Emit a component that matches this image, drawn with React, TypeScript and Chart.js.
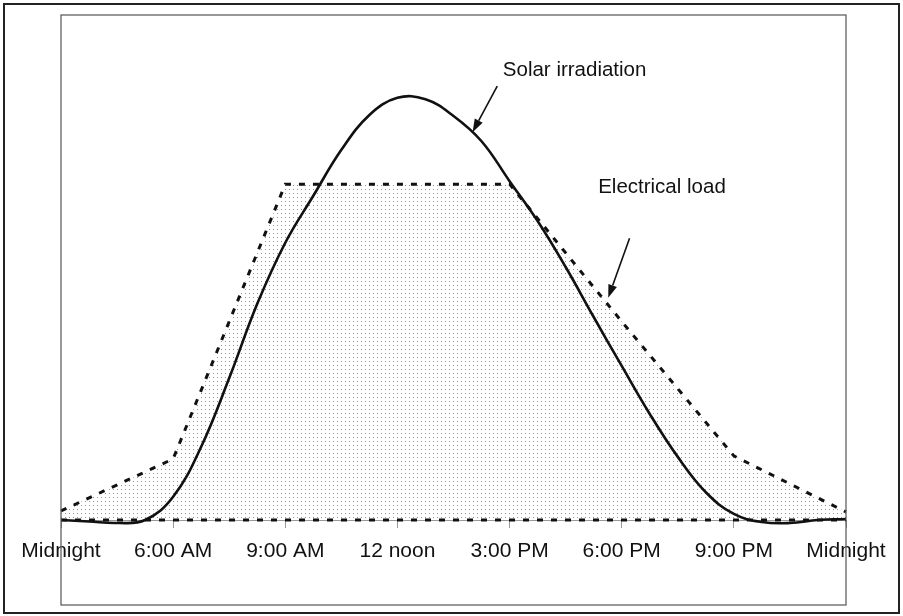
import React, { useEffect, useRef } from 'react';
import { Chart, registerables } from 'chart.js';

Chart.register(...registerables);

// ---- data ----
const tickLabels = ['Midnight', '6:00 AM', '9:00 AM', '12 noon', '3:00 PM', '6:00 PM', '9:00 PM', 'Midnight'];

const loadX = [0, 1, 2, 3, 4, 5, 6, 7];
const loadValues = [1.8, 12.1, 66.5, 66.5, 66.5, 39.3, 12.7, 1.6];

const solarX = [0, 0.25, 0.5, 0.75, 1, 1.25, 1.5, 1.75, 2, 2.25, 2.5, 2.75, 3, 3.25, 3.5, 3.75, 4, 4.25, 4.5, 4.75, 5, 5.25, 5.5, 5.75, 6, 6.25, 6.5, 6.75, 7];
const solarValues = [0, -0.3, -0.6, 0, 4.6, 14.5, 28.1, 42.8, 54.9, 64.2, 73.3, 80.2, 83.6, 83.3, 80.0, 75.0, 67.1, 59.2, 50.1, 40.2, 30.5, 21.0, 12.5, 5.5, 1.2, -0.4, -0.6, 0, 0.2];

const baselineX = [0, 7];
const baselineValues = [0, 0];

// annotation anchors, in data units
const solarNote = { text: 'Solar irradiation', x: 3.94, y: 87.9, fromX: 3.89, fromY: 85.9, toX: 3.67, toY: 76.8 };
const loadNote = { text: 'Electrical load', x: 4.79, y: 64.8, fromX: 5.07, fromY: 55.8, toX: 4.88, toY: 44.0 };

const W = 903;
const H = 616;

function makePattern(): CanvasPattern | string {
  const c = document.createElement('canvas');
  c.width = 4;
  c.height = 4;
  const g = c.getContext('2d');
  if (!g) return 'rgba(0,0,0,0.1)';
  g.fillStyle = 'rgba(40,40,40,0.5)';
  g.fillRect(1, 1, 1, 1);
  const p = g.createPattern(c, 'repeat');
  return p || 'rgba(0,0,0,0.1)';
}

function drawArrow(ctx: CanvasRenderingContext2D, x1: number, y1: number, x2: number, y2: number) {
  const ang = Math.atan2(y2 - y1, x2 - x1);
  const len = 13;
  const half = 4.5;
  const bx = x2 - len * Math.cos(ang);
  const by = y2 - len * Math.sin(ang);
  ctx.beginPath();
  ctx.moveTo(x1, y1);
  ctx.lineTo(bx, by);
  ctx.lineWidth = 1.6;
  ctx.strokeStyle = '#111';
  ctx.stroke();
  ctx.beginPath();
  ctx.moveTo(x2, y2);
  ctx.lineTo(bx + half * Math.sin(ang), by - half * Math.cos(ang));
  ctx.lineTo(bx - half * Math.sin(ang), by + half * Math.cos(ang));
  ctx.closePath();
  ctx.fillStyle = '#111';
  ctx.fill();
}

const framePlugin = {
  id: 'frameAndNotes',
  afterDraw(chart: any) {
    const ctx: CanvasRenderingContext2D = chart.ctx;
    const xs = chart.scales.x;
    const ys = chart.scales.y;
    const area = chart.chartArea;
    ctx.save();
    // outer frame
    ctx.strokeStyle = '#222';
    ctx.lineWidth = 2;
    ctx.strokeRect(4, 4, W - 8, H - 7);
    // inner plot box
    ctx.strokeStyle = '#555';
    ctx.lineWidth = 1.2;
    ctx.strokeRect(area.left, area.top, area.right - area.left, 605 - area.top);
    // notes
    ctx.fillStyle = '#111';
    ctx.font = '20.5px "Liberation Sans", Arial, sans-serif';
    ctx.textBaseline = 'alphabetic';
    ctx.textAlign = 'left';
    for (const n of [solarNote, loadNote]) {
      ctx.fillText(n.text, xs.getPixelForValue(n.x), ys.getPixelForValue(n.y));
      drawArrow(ctx, xs.getPixelForValue(n.fromX), ys.getPixelForValue(n.fromY), xs.getPixelForValue(n.toX), ys.getPixelForValue(n.toY));
    }
    ctx.restore();
  },
};

export default function App() {
  const ref = useRef<HTMLCanvasElement>(null);

  useEffect(() => {
    if (!ref.current) return;
    const pattern = makePattern();
    const chart = new Chart(ref.current, {
      type: 'line',
      data: {
        datasets: [
          {
            label: 'Solar irradiation',
            data: solarX.map((x, i) => ({ x, y: solarValues[i] })),
            borderColor: '#111',
            borderWidth: 2.6,
            pointRadius: 0,
            tension: 0.4,
            fill: false,
            clip: false,
          },
          {
            label: 'Electrical load',
            data: loadX.map((x, i) => ({ x, y: loadValues[i] })),
            borderColor: '#111',
            borderWidth: 3,
            borderDash: [6, 8],
            pointRadius: 0,
            tension: 0,
            fill: 'origin',
            backgroundColor: pattern as any,
            clip: false,
          },
          {
            label: 'Baseline',
            data: baselineX.map((x, i) => ({ x, y: baselineValues[i] })),
            borderColor: '#111',
            borderWidth: 3,
            borderDash: [6, 8],
            pointRadius: 0,
            fill: false,
            clip: false,
          },
        ],
      },
      options: {
        responsive: false,
        animation: false,
        layout: { padding: { left: 61, right: 57, top: 15, bottom: 0 } },
        plugins: { legend: { display: false }, tooltip: { enabled: false } },
        scales: {
          x: {
            type: 'linear',
            min: 0,
            max: 7,
            afterFit: (s: any) => {
              s.height = 96;
            },
            grid: { drawOnChartArea: false, drawTicks: true, tickLength: 8, color: '#999' },
            border: { display: true, color: '#999', width: 1 },
            ticks: {
              stepSize: 1,
              autoSkip: false,
              maxRotation: 0,
              padding: 11,
              color: '#111',
              font: { family: '"Liberation Sans", Arial, sans-serif', size: 21 },
              callback: (v: any) => tickLabels[Math.round(Number(v))] ?? '',
            },
          },
          y: {
            type: 'linear',
            min: 0,
            max: 100,
            display: false,
          },
        },
      },
      plugins: [framePlugin],
    });
    return () => chart.destroy();
  }, []);

  return (
    <div style={{ position: 'absolute', left: 0, top: 0, width: W, height: H, background: '#fff' }}>
      <canvas ref={ref} width={W} height={H} style={{ width: W, height: H, display: 'block' }} />
    </div>
  );
}
